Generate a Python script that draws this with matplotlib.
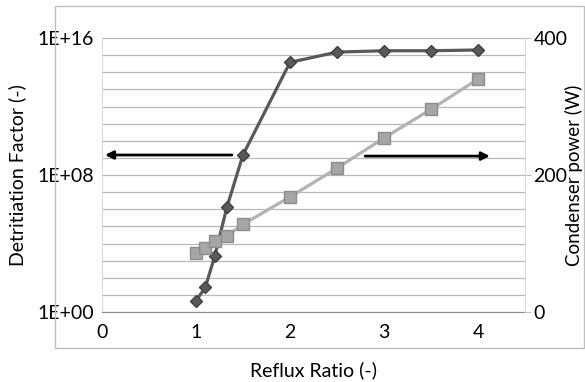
import matplotlib
matplotlib.use("Agg")
import matplotlib.pyplot as plt
from matplotlib.patches import Rectangle

plt.rcParams['font.family'] = ['Lato', 'DejaVu Sans']

# reflux ratio
reflux = [1.0, 1.1, 1.2, 1.33, 1.5, 2.0, 2.5, 3.0, 3.5, 4.0]
# detritiation factor (left, log axis)
df = [4.5e0, 2.8e1, 1.9e3, 1.4e6, 1.5e9, 3.8e14, 1.5e15, 1.8e15, 1.8e15, 2.0e15]
# condenser power in W (right axis)
power = [86, 93, 103, 111, 128, 168, 210, 254, 296, 340]

left_ticks = [1e0, 1e8, 1e16]
left_labels = ['1E+00', '1E+08', '1E+16']
right_ticks = [0, 200, 400]
x_ticks = [0, 1, 2, 3, 4]

fs = 14

fig = plt.figure(figsize=(5.85, 3.82), dpi=100)
fig.patches.append(Rectangle((55 / 585, 1 - 348 / 382), 529 / 585, 342 / 382,
                             transform=fig.transFigure, fill=False,
                             edgecolor='#bfbfbf', lw=1.0))

ax = fig.add_axes([102 / 585, 1 - 312 / 382, 423 / 585, 274 / 382])
ax.set_yscale('log')
ax.set_ylim(1e0, 1e16)
ax.set_xlim(0, 4.5)
ax.set_yticks(left_ticks)
ax.set_yticklabels(left_labels)
ax.set_yticks([10.0 ** k for k in range(17)], minor=True)
ax.yaxis.set_minor_formatter(plt.NullFormatter())
ax.set_xticks(x_ticks)
ax.grid(True, which='both', axis='y', color='#b8b8b8', lw=0.9)
ax.set_axisbelow(True)
ax.tick_params(axis='y', which='both', length=0, labelsize=fs, pad=6)
ax.tick_params(axis='x', which='both', length=0, labelsize=fs, pad=9)

for s in ['left', 'right', 'top']:
    ax.spines[s].set_visible(False)
ax.spines['bottom'].set_color('#8c8c8c')
ax.spines['left'].set_visible(True)
ax.spines['left'].set_color('#d9d9d9')

ax.plot(reflux, df, color='#595959', lw=2.3, marker='D', markersize=6.5,
        markerfacecolor='#595959', markeredgecolor='#404040', zorder=3)
ax.set_ylabel('Detritiation Factor (-)', fontsize=fs, labelpad=8)
ax.set_xlabel('Reflux Ratio (-)', fontsize=fs, labelpad=14)

ax2 = ax.twinx()
ax2.set_ylim(0, 400)
ax2.set_yticks(right_ticks)
ax2.plot(reflux, power, color='#b3b3b3', lw=2.3, marker='s', markersize=8,
         markerfacecolor='#a6a6a6', markeredgecolor='#8c8c8c', zorder=3)
ax2.tick_params(axis='y', length=4, color='#bfbfbf', labelsize=fs, pad=2)
for s in ['left', 'top', 'bottom']:
    ax2.spines[s].set_visible(False)
ax2.spines['right'].set_color('#d9d9d9')
fig.text(574 / 585, 1 - 175 / 382, 'Condenser power (W)', fontsize=13.5,
         rotation=90, ha='center', va='center')

arrow = dict(arrowstyle='-|>', color='black', lw=2.0,
             mutation_scale=12, shrinkA=0, shrinkB=0)
ax.annotate('', xy=(0.007, 0.573), xytext=(0.307, 0.573),
            xycoords='axes fraction', arrowprops=arrow)
ax.annotate('', xy=(0.917, 0.569), xytext=(0.622, 0.569),
            xycoords='axes fraction', arrowprops=arrow)

fig.savefig('out.png', dpi=100)
